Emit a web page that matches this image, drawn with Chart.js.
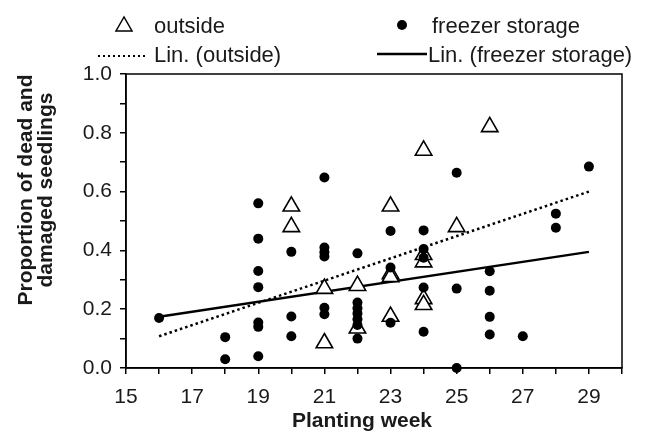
<!DOCTYPE html>
<html>
<head>
<meta charset="utf-8">
<script src="https://cdn.jsdelivr.net/npm/chart.js@4.4.0/dist/chart.umd.min.js"></script>
<style>
  body { margin: 0; background: #fff; }
  #wrap { position: relative; width: 646px; height: 433px; font-family: "Liberation Sans", Arial, sans-serif; color: #1a1a1a; }
  #wrap canvas, #wrap svg { position: absolute; left: 0; top: 0; }
  .leg { position: absolute; white-space: nowrap; font-size: 22px; line-height: 22px; }
  #xtitle { position: absolute; left: 262px; top: 409px; width: 200px; text-align: center; font-size: 21px; line-height: 21px; font-weight: bold; }
  #ytitle { position: absolute; left: -95px; top: 170px; width: 260px; height: 40px; text-align: center; font-size: 21px; line-height: 20px; font-weight: bold; transform: rotate(-90deg); }
</style>
</head>
<body>
<div id="wrap">
  <canvas id="myChart" width="646" height="433"></canvas>
  <svg width="646" height="70">
    <polygon points="124,17 116,31 132,31" fill="#fff" stroke="#000" stroke-width="1.5"/>
    <circle cx="402" cy="25" r="5" fill="#000"/>
    <line x1="98" y1="56" x2="145" y2="56" stroke="#000" stroke-width="2" stroke-dasharray="2 3"/>
    <line x1="377" y1="54" x2="427" y2="54" stroke="#000" stroke-width="2.5"/>
  </svg>
  <div class="leg" style="left:154px; top:15px">outside</div>
  <div class="leg" style="left:432px; top:15px">freezer storage</div>
  <div class="leg" style="left:154px; top:44px">Lin. (outside)</div>
  <div class="leg" style="left:428px; top:44px">Lin. (freezer storage)</div>
  <div id="xtitle">Planting week</div>
  <div id="ytitle">Proportion of dead and<br>damaged seedlings</div>
</div>
<script>
// planting week / proportion
var outsideWeeks = [20, 20, 21, 21, 22, 22, 23, 23, 23, 23, 24, 24, 24, 24, 24, 25, 26];
var outsideValues = [0.55, 0.48, 0.27, 0.085, 0.28, 0.135, 0.55, 0.32, 0.31, 0.175, 0.74, 0.385, 0.36, 0.235, 0.215, 0.48, 0.82];

var freezerWeeks = [16, 18, 18,
  19, 19, 19, 19, 19, 19, 19,
  20, 20, 20,
  21, 21, 21, 21, 21, 21,
  22, 22, 22, 22, 22, 22, 22,
  23, 23, 23,
  24, 24, 24, 24, 24,
  25, 25, 25,
  26, 26, 26, 26,
  27, 28, 28, 29];
var freezerValues = [0.17, 0.105, 0.03,
  0.56, 0.44, 0.33, 0.275, 0.155, 0.14, 0.04,
  0.395, 0.175, 0.108,
  0.648, 0.41, 0.394, 0.379, 0.205, 0.183,
  0.39, 0.223, 0.203, 0.185, 0.166, 0.146, 0.10,
  0.466, 0.342, 0.154,
  0.468, 0.405, 0.375, 0.274, 0.123,
  0.664, 0.27, 0.0,
  0.329, 0.263, 0.174, 0.114,
  0.108, 0.525, 0.477, 0.685];

// trend line end points (Lin.)
var trendWeeks = [16, 29];
var outsideTrend = [0.108, 0.60];
var freezerTrend = [0.174, 0.395];

var xTickLabels = [15, 17, 19, 21, 23, 25, 27, 29];
var yTickLabels = [0.0, 0.2, 0.4, 0.6, 0.8, 1.0];

function pts(xs, ys) {
  return xs.map(function (x, i) { return { x: x, y: ys[i] }; });
}

var frameBox = {
  id: 'frameBox',
  beforeDatasetsDraw: function (chart) {
    var a = chart.chartArea, ctx = chart.ctx;
    ctx.save();
    ctx.strokeStyle = '#000';
    ctx.lineWidth = 1.5;
    ctx.strokeRect(a.left, a.top, a.right - a.left, a.bottom - a.top);
    ctx.restore();
  }
};

window.onload = function () {
  var ctx = document.getElementById('myChart');
  var tickFont = { family: '"Liberation Sans", Arial, sans-serif', size: 21 };
  new Chart(ctx, {
    type: 'scatter',
    data: {
      datasets: [{
        label: 'freezer storage',
        data: pts(freezerWeeks, freezerValues),
        pointStyle: 'circle',
        pointRadius: 5,
        backgroundColor: '#000',
        borderColor: '#000',
        borderWidth: 0,
        order: 1,
        clip: false
      }, {
        label: 'outside',
        data: pts(outsideWeeks, outsideValues),
        pointStyle: 'triangle',
        pointRadius: 9.5,
        backgroundColor: '#fff',
        borderColor: '#000',
        borderWidth: 1.6,
        order: 2,
        clip: false
      }, {
        label: 'Lin. (outside)',
        type: 'line',
        data: pts(trendWeeks, outsideTrend),
        borderColor: '#000',
        borderWidth: 2.5,
        borderDash: [2.5, 3],
        pointRadius: 0,
        order: 3
      }, {
        label: 'Lin. (freezer storage)',
        type: 'line',
        data: pts(trendWeeks, freezerTrend),
        borderColor: '#000',
        borderWidth: 2.5,
        pointRadius: 0,
        order: 3
      }]
    },
    options: {
      responsive: false,
      animation: false,
      layout: { padding: { top: 74, right: 24, left: 0, bottom: 0 } },
      plugins: { legend: { display: false }, tooltip: { enabled: false } },
      scales: {
        x: {
          type: 'linear',
          min: 15,
          max: 30,
          afterFit: function (s) { s.height = 65; },
          border: { display: true, color: '#000', width: 1.5 },
          grid: { drawOnChartArea: false, drawTicks: true, tickLength: 6, color: '#000', lineWidth: 1.5 },
          ticks: {
            stepSize: 1,
            padding: 11,
            color: '#1a1a1a',
            font: tickFont,
            maxRotation: 0,
            autoSkip: false,
            callback: function (v) { return xTickLabels.indexOf(v) >= 0 ? String(v) : ''; }
          }
        },
        y: {
          min: 0,
          max: 1,
          afterFit: function (s) { s.width = 126; },
          border: { display: true, color: '#000', width: 1.5 },
          grid: { drawOnChartArea: false, drawTicks: true, tickLength: 6, color: '#000', lineWidth: 1.5 },
          ticks: {
            stepSize: 0.1,
            padding: 8,
            color: '#1a1a1a',
            font: tickFont,
            autoSkip: false,
            callback: function (v) {
              var r = Math.round(v * 10) / 10;
              return yTickLabels.indexOf(r) >= 0 ? r.toFixed(1) : '';
            }
          }
        }
      }
    },
    plugins: [frameBox]
  });
};
</script>
</body>
</html>
